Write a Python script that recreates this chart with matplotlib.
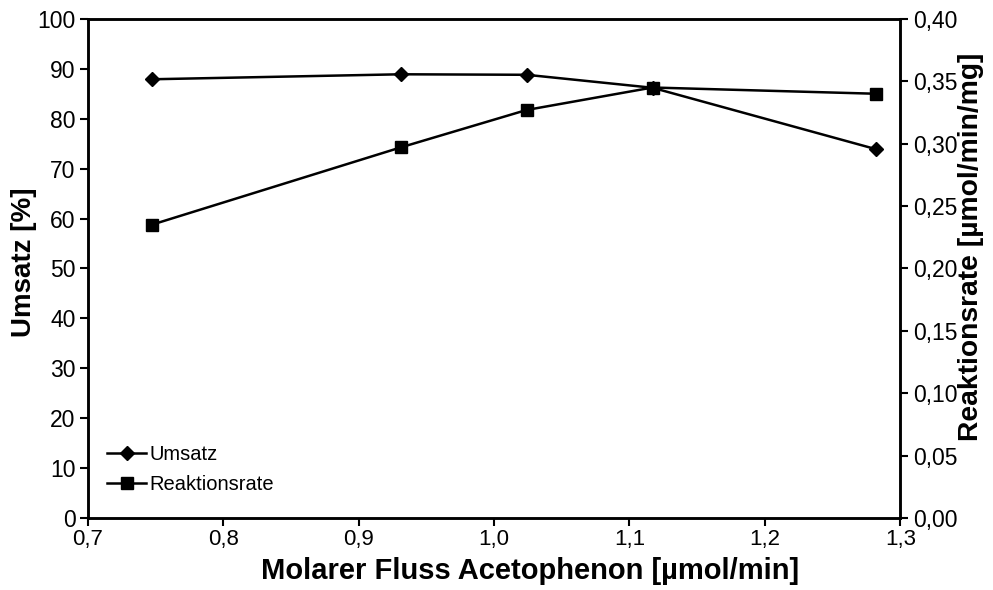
import matplotlib.pyplot as plt

flow = [0.747, 0.931, 1.024, 1.117, 1.282]
umsatz = [87.9, 88.9, 88.8, 86.2, 73.9]
rate = [0.235, 0.297, 0.327, 0.345, 0.340]

x_ticks = [0.7, 0.8, 0.9, 1.0, 1.1, 1.2, 1.3]
left_ticks = list(range(0, 101, 10))
right_ticks = [0.0, 0.05, 0.10, 0.15, 0.20, 0.25, 0.30, 0.35, 0.40]


def de(v, n):
    return f"{v:.{n}f}".replace(".", ",")


def main():
    plt.rcParams["font.family"] = ["Liberation Sans", "DejaVu Sans"]
    fig = plt.figure(figsize=(9.93, 5.9), dpi=100)
    ax = fig.add_axes([0.0886, 0.122, 0.818, 0.846])
    ax2 = ax.twinx()

    l1, = ax.plot(flow, umsatz, color="black", lw=1.8, marker="D", ms=7,
                  label="Umsatz")
    l2, = ax2.plot(flow, rate, color="black", lw=1.8, marker="s", ms=9,
                   label="Reaktionsrate")

    ax.set_xlim(0.7, 1.3)
    ax.set_ylim(0, 100)
    ax2.set_ylim(0, 0.40)
    ax.set_xticks(x_ticks, [de(v, 1) for v in x_ticks])
    ax.set_yticks(left_ticks, [str(v) for v in left_ticks])
    ax2.set_yticks(right_ticks, [de(v, 2) for v in right_ticks])

    for a in (ax, ax2):
        a.tick_params(direction="out", length=6, width=1.5, labelsize=16.5,
                      pad=3)
        for s in a.spines.values():
            s.set_linewidth(1.8)
    ax.tick_params(axis="x", labelsize=16, pad=2)

    ax.set_xlabel("Molarer Fluss Acetophenon [µmol/min]", fontsize=21,
                  fontweight="bold")
    ax.xaxis.set_label_coords(0.544, -0.079)
    ax.set_ylabel("Umsatz [%]", fontsize=20, fontweight="bold")
    ax.yaxis.set_label_coords(-0.063, 0.512)
    ax2.set_ylabel("Reaktionsrate [µmol/min/mg]", fontsize=20.3,
                   fontweight="bold")
    ax2.yaxis.set_label_coords(1.071, 0.544)

    ax.legend(handles=[l1, l2], loc="lower left", frameon=False, fontsize=14.5,
              handlelength=1.9, handletextpad=0.2, labelspacing=0.55,
              borderaxespad=0, bbox_to_anchor=(0.014, 0.032))

    fig.savefig("out.png", dpi=100)
    plt.close(fig)


if __name__ == "__main__":
    main()
